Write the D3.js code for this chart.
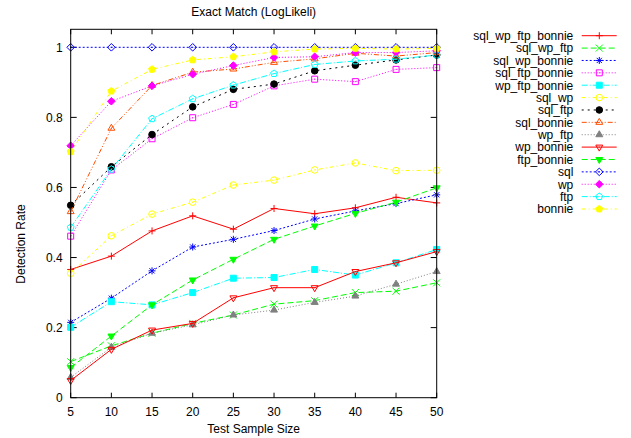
<!DOCTYPE html>
<html>
<head>
<meta charset="utf-8">
<script src="https://cdn.jsdelivr.net/npm/d3@7"></script>
<style>
  body { margin: 0; background: #fff; }
  svg { display: block; font-family: "Liberation Sans", Arial, Helvetica, sans-serif; }
</style>
</head>
<body>
<div id="chart"></div>
<script>
// sample sizes on the x axis
var sizes = [5, 10, 15, 20, 25, 30, 35, 40, 45, 50];
var yTicks = [0, 0.2, 0.4, 0.6, 0.8, 1];

var seriesNames = ['sql_wp_ftp_bonnie', 'sql_wp_ftp', 'sql_wp_bonnie', 'sql_ftp_bonnie',
	'wp_ftp_bonnie', 'sql_wp', 'sql_ftp', 'sql_bonnie', 'wp_ftp', 'wp_bonnie',
	'ftp_bonnie', 'sql', 'wp', 'ftp', 'bonnie'];

var sql_wp_ftp_bonnie = [0.366, 0.404, 0.476, 0.519, 0.481, 0.540, 0.525, 0.542, 0.572, 0.556];
var sql_wp_ftp        = [0.103, 0.148, 0.184, 0.212, 0.236, 0.267, 0.277, 0.300, 0.304, 0.328];
var sql_wp_bonnie     = [0.215, 0.284, 0.362, 0.430, 0.452, 0.477, 0.510, 0.533, 0.554, 0.579];
var sql_ftp_bonnie    = [0.461, 0.650, 0.739, 0.799, 0.837, 0.890, 0.909, 0.902, 0.937, 0.942];
var wp_ftp_bonnie     = [0.201, 0.274, 0.265, 0.300, 0.341, 0.343, 0.366, 0.350, 0.385, 0.423];
var sql_wp            = [0.355, 0.462, 0.524, 0.558, 0.607, 0.621, 0.650, 0.670, 0.648, 0.649];
var sql_ftp           = [0.549, 0.659, 0.751, 0.830, 0.880, 0.895, 0.933, 0.949, 0.964, 0.978];
var sql_bonnie        = [0.531, 0.769, 0.891, 0.929, 0.938, 0.957, 0.967, 0.983, 0.975, 0.985];
var wp_ftp            = [0.058, 0.144, 0.184, 0.208, 0.236, 0.250, 0.272, 0.290, 0.324, 0.360];
var wp_bonnie         = [0.049, 0.138, 0.193, 0.212, 0.285, 0.314, 0.314, 0.360, 0.385, 0.417];
var ftp_bonnie        = [0.086, 0.176, 0.265, 0.336, 0.395, 0.452, 0.490, 0.526, 0.558, 0.599];
var sql               = [1, 1, 1, 1, 1, 1, 1, 1, 1, 1];
var wp                = [0.719, 0.846, 0.890, 0.923, 0.948, 0.971, 0.973, 0.985, 0.985, 0.990];
var ftp               = [0.486, 0.652, 0.796, 0.853, 0.892, 0.925, 0.951, 0.961, 0.966, 0.978];
var bonnie            = [0.702, 0.875, 0.937, 0.964, 0.973, 0.987, 0.995, 0.997, 0.995, 0.997];

var seriesValues = [sql_wp_ftp_bonnie, sql_wp_ftp, sql_wp_bonnie, sql_ftp_bonnie,
	wp_ftp_bonnie, sql_wp, sql_ftp, sql_bonnie, wp_ftp, wp_bonnie,
	ftp_bonnie, sql, wp, ftp, bonnie];

// gnuplot postscript line types
var colors = ['#ff0000', '#00ff00', '#0000ff', '#ff00ff', '#00ffff', '#ffff00', '#000000', '#ff4d00', '#808080'];
var dashes = [null, '6,3', '2,2', '1,2', '6,2,1,2', '4,3,1,3', '2,4', '5,2,1,2,1,2', '1,2'];
var markers = ['plus', 'times', 'star', 'sqOpen', 'sqFill', 'circOpen', 'circFill', 'triOpen', 'triFill',
	'itriOpen', 'itriFill', 'diaOpen', 'diaFill', 'pentOpen', 'pentFill'];

var width = 631, height = 438;
var margin = {left: 70.7, right: 194.3, top: 47.3, bottom: 40.3};
var headroom = 18; // frame extends above y = 1

var svg = d3.select('#chart').append('svg').attr('width', width).attr('height', height);

var x = d3.scaleLinear().domain([5, 50]).range([margin.left, width - margin.right]);
var y = d3.scaleLinear().domain([0, 1]).range([height - margin.bottom, margin.top]);
var frameTop = y(1) - headroom;

function polyPath(n, r, rot) {
	var pts = [];
	for (var i = 0; i < n; i++) {
		var a = rot + i * 2 * Math.PI / n;
		pts.push([r * Math.cos(a), r * Math.sin(a)]);
	}
	return 'M' + pts.map(function(p) { return p[0].toFixed(2) + ',' + p[1].toFixed(2); }).join('L') + 'Z';
}

function markerPath(type) {
	var s = 3.5;
	switch (type) {
		case 'plus': return 'M' + (-s) + ',0H' + s + 'M0,' + (-s) + 'V' + s;
		case 'times': return 'M' + (-s) + ',' + (-s) + 'L' + s + ',' + s + 'M' + (-s) + ',' + s + 'L' + s + ',' + (-s);
		case 'star': return 'M' + (-s) + ',0H' + s + 'M0,' + (-s) + 'V' + s +
			'M-2.6,-2.6L2.6,2.6M-2.6,2.6L2.6,-2.6';
		case 'sqOpen': case 'sqFill': return 'M-3,-3H3V3H-3Z';
		case 'circOpen': case 'circFill': return 'M3.3,0A3.3,3.3 0 1,1 -3.3,0A3.3,3.3 0 1,1 3.3,0Z';
		case 'triOpen': case 'triFill': return polyPath(3, 4, -Math.PI / 2);
		case 'itriOpen': case 'itriFill': return polyPath(3, 4, Math.PI / 2);
		case 'diaOpen': case 'diaFill': return polyPath(4, 3.8, -Math.PI / 2);
		case 'pentOpen': case 'pentFill': return polyPath(5, 3.6, -Math.PI / 2);
	}
}

function isFilled(type) { return /Fill$/.test(type); }
function isOpen(type) { return /Open$/.test(type); }

function drawMarker(g, type, color) {
	g.append('path')
		.attr('d', markerPath(type))
		.attr('fill', isFilled(type) ? color : 'none')
		.attr('stroke', color)
		.attr('stroke-width', 1);
	if (isOpen(type)) {
		g.append('rect').attr('x', -0.5).attr('y', -0.5).attr('width', 1).attr('height', 1).attr('fill', color);
	}
}

// frame ticks (inward, mirrored)
var axes = svg.append('g').attr('stroke', '#000').attr('stroke-width', 1);
sizes.forEach(function(v) {
	axes.append('line').attr('x1', x(v)).attr('x2', x(v)).attr('y1', y(0)).attr('y2', y(0) - 5);
	axes.append('line').attr('x1', x(v)).attr('x2', x(v)).attr('y1', frameTop).attr('y2', frameTop + 5);
});
yTicks.forEach(function(v) {
	axes.append('line').attr('x1', x(5)).attr('x2', x(5) + 6).attr('y1', y(v)).attr('y2', y(v));
	axes.append('line').attr('x1', x(50)).attr('x2', x(50) - 6).attr('y1', y(v)).attr('y2', y(v));
});

// tick labels
svg.append('g').selectAll('text').data(sizes).enter().append('text')
	.attr('x', function(d) { return x(d); })
	.attr('y', y(0) + 18)
	.attr('text-anchor', 'middle')
	.attr('font-size', 12)
	.text(function(d) { return d; });

svg.append('g').selectAll('text').data(yTicks).enter().append('text')
	.attr('x', x(5) - 8)
	.attr('y', function(d) { return y(d) + 4.3; })
	.attr('text-anchor', 'end')
	.attr('font-size', 12)
	.text(function(d) { return d; });

svg.append('text').attr('x', (x(5) + x(50)) / 2).attr('y', 433)
	.attr('text-anchor', 'middle').attr('font-size', 12).text('Test Sample Size');
svg.append('text').attr('transform', 'translate(25,244) rotate(-90)')
	.attr('text-anchor', 'middle').attr('font-size', 12).text('Detection Rate');
svg.append('text').attr('x', (x(5) + x(50)) / 2).attr('y', 15.5)
	.attr('text-anchor', 'middle').attr('font-size', 12).text('Exact Match (LogLikeli)');

var line = d3.line()
	.x(function(d, i) { return x(sizes[i]); })
	.y(function(d) { return y(d); });

var legendY = d3.scaleLinear().domain([0, 14]).range([35.7, 209]);

seriesNames.forEach(function(name, k) {
	var color = colors[k % 9], dash = dashes[k % 9], mk = markers[k];
	var vals = seriesValues[k];

	svg.append('path')
		.datum(vals)
		.attr('d', line)
		.attr('fill', 'none')
		.attr('stroke', color)
		.attr('stroke-width', 1)
		.attr('stroke-dasharray', dash);

	svg.append('g').selectAll('g').data(vals).enter().append('g')
		.attr('transform', function(d, i) { return 'translate(' + x(sizes[i]) + ',' + y(d) + ')'; })
		.each(function() { drawMarker(d3.select(this), mk, color); });

	// legend entry
	var ly = legendY(k);
	svg.append('text').attr('x', 573.3).attr('y', ly + 4.3)
		.attr('text-anchor', 'end').attr('font-size', 12).text(name);
	svg.append('line').attr('x1', 581.7).attr('x2', 616.7).attr('y1', ly).attr('y2', ly)
		.attr('stroke', color).attr('stroke-width', 1).attr('stroke-dasharray', dash);
	drawMarker(svg.append('g').attr('transform', 'translate(599.3,' + ly + ')'), mk, color);
});

// plot border
svg.append('rect')
	.attr('x', x(5)).attr('y', frameTop)
	.attr('width', x(50) - x(5)).attr('height', y(0) - frameTop)
	.attr('fill', 'none').attr('stroke', '#000').attr('stroke-width', 1);
</script>
</body>
</html>
